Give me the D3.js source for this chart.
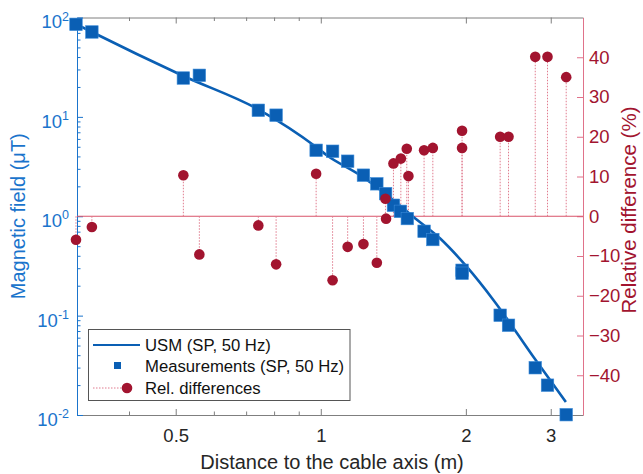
<!DOCTYPE html>
<html><head><meta charset="utf-8">
<script src="https://cdn.jsdelivr.net/npm/d3@7"></script>
<style>body{margin:0;background:#fff} text{font-family:"Liberation Sans",Arial,sans-serif}</style>
</head><body><svg id="c" width="643" height="474"></svg>
<script>
// Measurements (SP, 50 Hz): distance (m) and field (µT)
const measX=[0.3105,0.335,0.5186,0.5598,0.742,0.8078,0.978,1.058,1.137,1.226,1.307,1.363,1.415,1.463,1.512,1.638,1.708,1.964,1.964,2.356,2.452,2.786,2.954,3.230];
const measY=[85.4,71.5,24.6,26.2,11.65,10.4,4.61,4.51,3.58,2.59,2.12,1.69,1.29,1.12,0.948,0.706,0.583,0.286,0.267,0.1009,0.080,0.0299,0.01995,0.01007];
// Relative differences (%)
const diffX=[0.3105,0.335,0.5186,0.5598,0.742,0.8078,0.978,1.058,1.137,1.226,1.307,1.362,1.366,1.415,1.466,1.508,1.520,1.638,1.708,1.964,1.964,2.356,2.452,2.786,2.954,3.230];
const diffV=[-5.9,-2.7,10.3,-9.6,-2.3,-12.1,10.7,-16.1,-7.7,-7.0,-11.7,4.4,-0.6,13.3,14.5,17.0,10.1,16.6,17.2,21.5,17.2,20.0,20.0,40.1,40.1,35.0];
// USM model curve
const usmX=[0.3115,0.335,0.5186,0.748,0.978,1.029,1.207,1.415,1.557,1.769,2.01,2.283,2.763,3.225];
const usmY=[85.4,71.5,25.8,11.65,4.98,4.11,2.59,1.449,0.984,0.597,0.309,0.143,0.0383,0.0135];
// ticks
const xTicks=[0.5,1,2,3];
const xTickLabels=["0.5","1","2","3"];
const xMinor=[0.4,0.6,0.7,0.8,0.9];
const yLeftTicks=[0.01,0.1,1,10,100];
const yLeftExp=["-2","-1","0","1","2"];
const yRightTicks=[-40,-30,-20,-10,0,10,20,30,40];
const legendLabels=["USM (SP, 50 Hz)","Measurements (SP, 50 Hz)","Rel. differences"];

const svg=d3.select("#c");
const L=77,R=583,T=17.5,B=415;
const x=d3.scaleLog().domain([0.312,3.5]).range([L,R]);
const yL=d3.scaleLog().domain([0.01,100]).range([B,T]);
const yR=d3.scaleLinear().domain([-50,50]).range([B,T]);

const blue="#0a5fb4", blueAx="#1a74cc", red="#a2142f", redAx="#e0728a", gray="#7f7f7f";

const yMinor=[];
[0.01,0.1,1,10].forEach(d=>{for(let k=2;k<=9;k++) yMinor.push(d*k);});

// bottom axis
const gB=svg.append("g").attr("transform",`translate(0,${B})`)
  .call(d3.axisBottom(x).tickValues(xTicks).tickFormat((d,i)=>xTickLabels[i]).tickSize(-6).tickSizeOuter(0).tickPadding(14));
gB.selectAll("path,line").attr("stroke",gray);
gB.selectAll("text").attr("font-size","18.5px").attr("fill","#262626").attr("font-family","Liberation Sans, Arial, sans-serif");
const gBm=svg.append("g").attr("transform",`translate(0,${B})`)
  .call(d3.axisBottom(x).tickValues(xMinor).tickFormat("").tickSize(-3.5).tickSizeOuter(0));
gBm.select(".domain").remove(); gBm.selectAll("line").attr("stroke",gray);
// top axis
const gT=svg.append("g").attr("transform",`translate(0,${T})`)
  .call(d3.axisTop(x).tickValues(xTicks).tickFormat("").tickSize(-6).tickSizeOuter(0));
gT.selectAll("path,line").attr("stroke",gray);
const gTm=svg.append("g").attr("transform",`translate(0,${T})`)
  .call(d3.axisTop(x).tickValues(xMinor).tickFormat("").tickSize(-3.5).tickSizeOuter(0));
gTm.select(".domain").remove(); gTm.selectAll("line").attr("stroke",gray);

// left axis
const gL=svg.append("g").attr("transform",`translate(${L},0)`)
  .call(d3.axisLeft(yL).tickValues(yLeftTicks).tickSize(-6).tickSizeOuter(0).tickPadding(8).tickFormat(()=>""));
gL.selectAll("path,line").attr("stroke",blueAx);
gL.selectAll(".tick text").attr("fill",blueAx).attr("font-size","18.5px").attr("dy","0.56em")
  .attr("font-family","Liberation Sans, Arial, sans-serif")
  .each(function(d,i){
    const t=d3.select(this);
    t.append("tspan").text("10");
    t.append("tspan").attr("dy","-0.62em").attr("font-size","12.5px").text(yLeftExp[i]);
  });
const gLm=svg.append("g").attr("transform",`translate(${L},0)`)
  .call(d3.axisLeft(yL).tickValues(yMinor).tickFormat("").tickSize(-3.5).tickSizeOuter(0));
gLm.select(".domain").remove(); gLm.selectAll("line").attr("stroke",blueAx);

// right axis
const gR=svg.append("g").attr("transform",`translate(${R},0)`)
  .call(d3.axisRight(yR).tickValues(yRightTicks).tickSize(-6).tickSizeOuter(0).tickPadding(6));
gR.selectAll("path,line").attr("stroke",redAx);
gR.selectAll("text").attr("fill",red).attr("font-size","18.5px").attr("font-family","Liberation Sans, Arial, sans-serif");

// zero baseline
svg.append("line").attr("x1",L).attr("x2",R).attr("y1",yR(0)).attr("y2",yR(0))
  .attr("stroke","#d9536a").attr("stroke-width",1.2);

// stems
svg.append("g").selectAll("line").data(diffV).join("line")
  .attr("x1",(d,i)=>x(diffX[i])).attr("x2",(d,i)=>x(diffX[i]))
  .attr("y1",yR(0)).attr("y2",d=>yR(d))
  .attr("stroke","#e07b8e").attr("stroke-width",1).attr("stroke-dasharray","1.5,1.5");

// USM curve
const line=d3.line().x(d=>x(d[0])).y(d=>yL(d[1])).curve(d3.curveMonotoneX);
svg.append("path").datum(usmX.map((v,i)=>[v,usmY[i]])).attr("d",line)
  .attr("fill","none").attr("stroke",blue).attr("stroke-width",2.6);

// measurement squares
const sq=12.5;
svg.append("g").selectAll("rect").data(measY).join("rect")
  .attr("x",(d,i)=>x(measX[i])-sq/2).attr("y",d=>yL(d)-sq/2)
  .attr("width",sq).attr("height",sq).attr("fill",blue).attr("stroke","#3a8ad8").attr("stroke-width",0.6);

// circles
svg.append("g").selectAll("circle").data(diffV).join("circle")
  .attr("cx",(d,i)=>x(diffX[i])).attr("cy",d=>yR(d)).attr("r",5.3).attr("fill",red);

// axis titles
svg.append("text").attr("transform",`translate(25,${(T+B)/2}) rotate(-90)`).attr("text-anchor","middle")
  .attr("font-size","20px").attr("fill",blueAx).text("Magnetic field (μT)");
svg.append("text").attr("transform",`translate(636,210) rotate(-90)`).attr("text-anchor","middle")
  .attr("font-size","20.5px").attr("fill",red).text("Relative difference (%)");
svg.append("text").attr("x",332).attr("y",469).attr("text-anchor","middle")
  .attr("font-size","20px").attr("fill","#262626").text("Distance to the cable axis (m)");

// legend
const lg=svg.append("g");
lg.append("rect").attr("x",88.5).attr("y",329.5).attr("width",261.5).attr("height",71)
  .attr("fill","#fff").attr("stroke","#555").attr("stroke-width",1);
const rows=[345,365.5,388];
lg.append("line").attr("x1",93).attr("x2",140).attr("y1",rows[0]).attr("y2",rows[0]).attr("stroke",blue).attr("stroke-width",2.2);
lg.append("rect").attr("x",117.5-3.5).attr("y",rows[1]-3.5).attr("width",7).attr("height",7).attr("fill",blue);
lg.append("line").attr("x1",93).attr("x2",127).attr("y1",rows[2]).attr("y2",rows[2]).attr("stroke","#e07b8e").attr("stroke-dasharray","1.5,1.5");
lg.append("circle").attr("cx",127).attr("cy",rows[2]).attr("r",5.3).attr("fill",red);
lg.selectAll("text.lab").data(legendLabels).join("text").attr("class","lab")
  .attr("x",145).attr("y",(d,i)=>rows[i]+6).attr("font-size","16.7px").attr("fill","#111").text(d=>d);
</script></body></html>
